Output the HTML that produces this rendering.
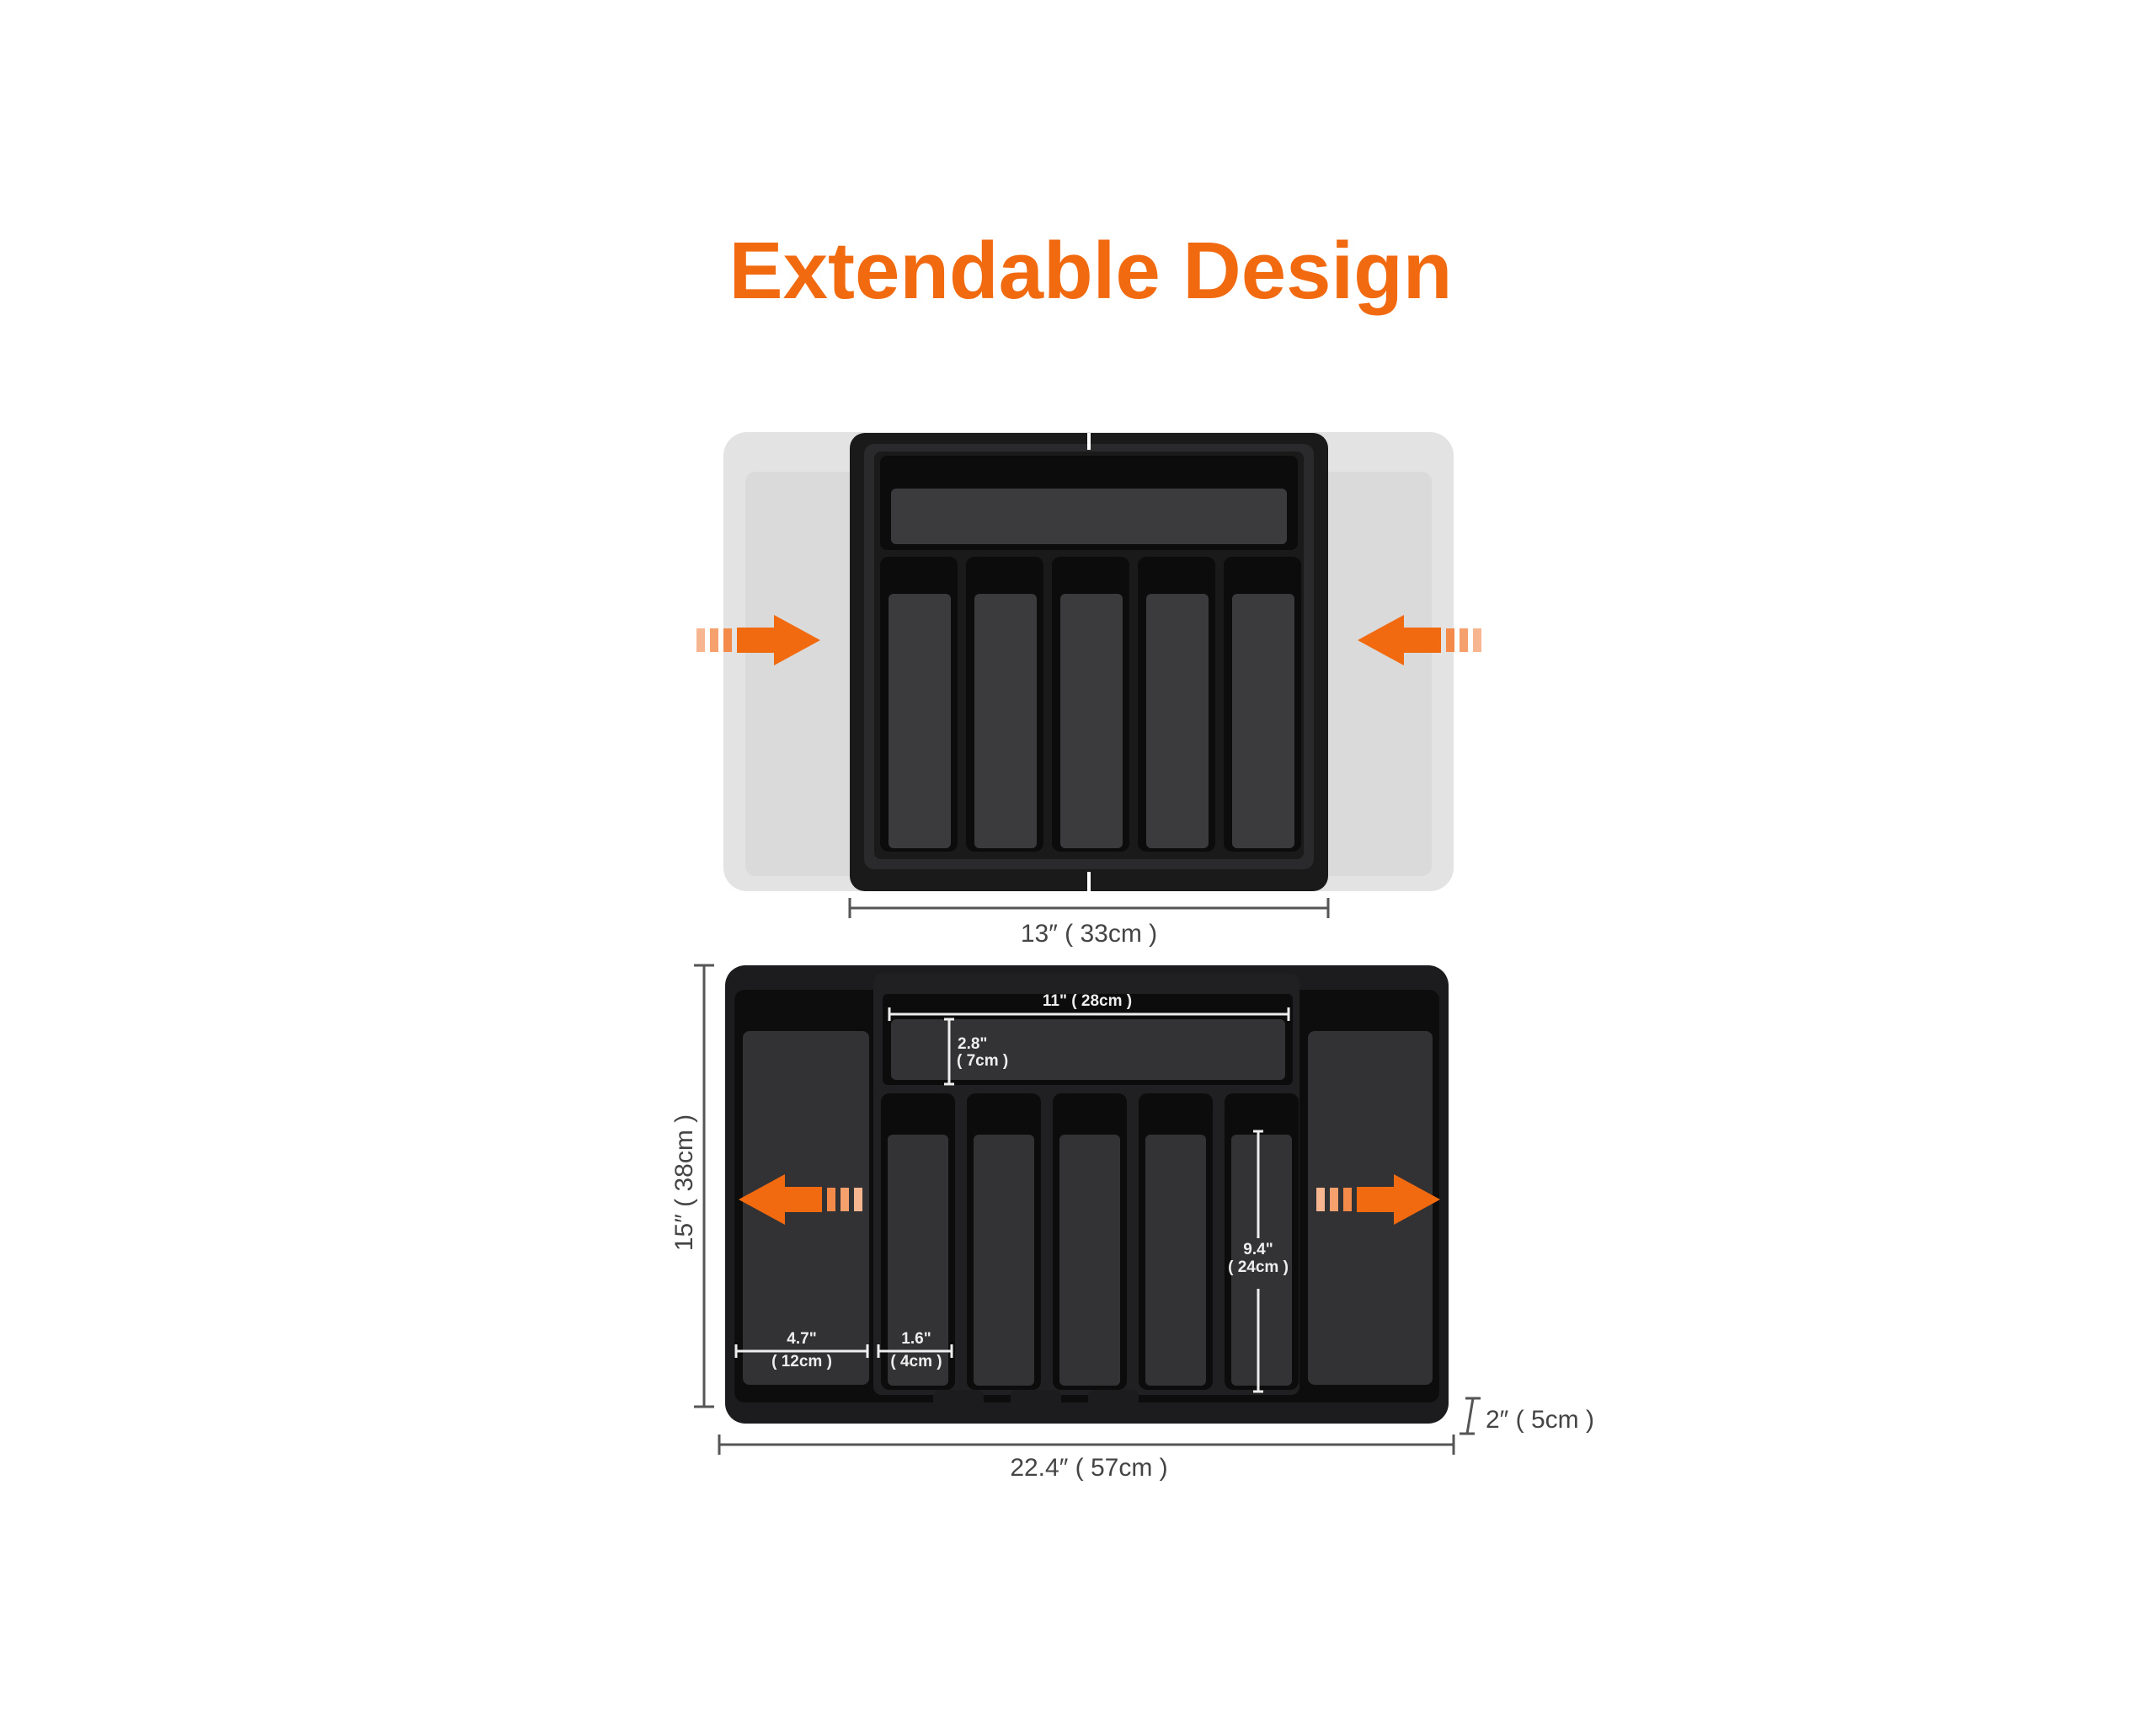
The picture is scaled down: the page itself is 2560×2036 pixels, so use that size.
<!DOCTYPE html>
<html><head><meta charset="utf-8"><style>
html,body{margin:0;padding:0;background:#fff}
svg{display:block}
text{font-family:"Liberation Sans",sans-serif}
</style></head><body>
<svg width="2560" height="2036" viewBox="0 0 2560 2036" xmlns="http://www.w3.org/2000/svg">
<defs>
<g id="arr">
 <rect x="0" y="-14" width="10" height="28" fill="#f7b690"/>
 <rect x="16" y="-14" width="10" height="28" fill="#f5a06d"/>
 <rect x="32" y="-14" width="10" height="28" fill="#f38a4a"/>
 <polygon points="48,-15 92,-15 92,-30 147,0 92,30 92,15 48,15" fill="#f26a10"/>
</g>
</defs>
<text x="1295" y="354" text-anchor="middle" font-size="96" font-weight="bold" fill="#f26a10">Extendable Design</text>

<!-- TOP -->
<rect x="859" y="513" width="867" height="545" rx="28" fill="#e3e3e3"/>
<rect x="885" y="560" width="815" height="480" rx="12" fill="#dadada"/>
<rect x="1009" y="514" width="568" height="544" rx="18" fill="#1a1a1b"/>
<rect x="1026" y="527" width="534" height="505" rx="12" fill="#2a2a2c"/>
<rect x="1038" y="536" width="510" height="484" rx="8" fill="#1a1a1b"/>
<rect x="1045" y="541" width="496" height="112" rx="8" fill="#0c0c0d"/>
<rect x="1058" y="580" width="470" height="66" rx="6" fill="#3b3b3e"/>
<g fill="#0c0c0d">
<rect x="1045" y="661" width="92" height="350" rx="10"/>
<rect x="1147" y="661" width="92" height="350" rx="10"/>
<rect x="1249" y="661" width="92" height="350" rx="10"/>
<rect x="1351" y="661" width="92" height="350" rx="10"/>
<rect x="1453" y="661" width="92" height="350" rx="10"/>
</g>
<g fill="#3b3b3e">
<rect x="1055" y="705" width="74" height="302" rx="6"/>
<rect x="1157" y="705" width="74" height="302" rx="6"/>
<rect x="1259" y="705" width="74" height="302" rx="6"/>
<rect x="1361" y="705" width="74" height="302" rx="6"/>
<rect x="1463" y="705" width="74" height="302" rx="6"/>
</g>
<rect x="1291" y="514" width="4" height="20" fill="#fff"/>
<rect x="1291" y="1035" width="4" height="40" fill="#fff"/>
<use href="#arr" transform="translate(827,760)"/>
<use href="#arr" transform="translate(1759,760) scale(-1,1)"/>
<g stroke="#555" stroke-width="3"><line x1="1009" y1="1078" x2="1577" y2="1078"/><line x1="1009" y1="1066" x2="1009" y2="1090"/><line x1="1577" y1="1066" x2="1577" y2="1090"/></g>
<text x="1293" y="1118" text-anchor="middle" font-size="30" fill="#444">13″ ( 33cm )</text>

<!-- BOTTOM -->
<rect x="861" y="1146" width="859" height="544" rx="24" fill="#1c1c1e"/>
<rect x="872" y="1175" width="837" height="490" rx="12" fill="#0d0d0e"/>
<rect x="882" y="1224" width="150" height="420" rx="8" fill="#323235"/>
<rect x="1553" y="1224" width="148" height="420" rx="8" fill="#323235"/>
<rect x="1037" y="1156" width="506" height="500" rx="10" fill="#202022"/>
<rect x="1048" y="1180" width="487" height="108" rx="6" fill="#0c0c0d"/>
<rect x="1058" y="1210" width="468" height="72" rx="6" fill="#333336"/>
<g fill="#0c0c0d">
<rect x="1046" y="1298" width="88" height="352" rx="10"/>
<rect x="1148" y="1298" width="88" height="352" rx="10"/>
<rect x="1250" y="1298" width="88" height="352" rx="10"/>
<rect x="1352" y="1298" width="88" height="352" rx="10"/>
<rect x="1454" y="1298" width="88" height="352" rx="10"/>
</g>
<g fill="#333336">
<rect x="1054" y="1347" width="72" height="298" rx="6"/>
<rect x="1156" y="1347" width="72" height="298" rx="6"/>
<rect x="1258" y="1347" width="72" height="298" rx="6"/>
<rect x="1360" y="1347" width="72" height="298" rx="6"/>
<rect x="1462" y="1347" width="72" height="298" rx="6"/>
</g>
<g fill="#1c1c1e"><rect x="1108" y="1650" width="60" height="30" rx="8"/><rect x="1200" y="1650" width="60" height="30" rx="8"/><rect x="1292" y="1650" width="60" height="30" rx="8"/></g>
<use href="#arr" transform="translate(1024,1424) scale(-1,1)"/>
<use href="#arr" transform="translate(1563,1424)"/>
<g stroke="#eee" stroke-width="3">
<line x1="1056" y1="1204" x2="1530" y2="1204"/><line x1="1056" y1="1196" x2="1056" y2="1212"/><line x1="1530" y1="1196" x2="1530" y2="1212"/>
<line x1="1127" y1="1210" x2="1127" y2="1287"/><line x1="1121" y1="1210" x2="1133" y2="1210"/><line x1="1121" y1="1287" x2="1133" y2="1287"/>
<line x1="1494" y1="1343" x2="1494" y2="1470"/><line x1="1494" y1="1530" x2="1494" y2="1652"/><line x1="1488" y1="1343" x2="1500" y2="1343"/><line x1="1488" y1="1652" x2="1500" y2="1652"/>
<line x1="874" y1="1604" x2="1030" y2="1604"/><line x1="874" y1="1596" x2="874" y2="1612"/><line x1="1030" y1="1596" x2="1030" y2="1612"/>
<line x1="1043" y1="1604" x2="1130" y2="1604"/><line x1="1043" y1="1596" x2="1043" y2="1612"/><line x1="1130" y1="1596" x2="1130" y2="1612"/>
</g>
<g fill="#eee" font-size="19" font-weight="bold">
<text x="1291" y="1194" text-anchor="middle">11" ( 28cm )</text>
<text x="1137" y="1245">2.8"</text><text x="1136" y="1265">( 7cm )</text>
<text x="1494" y="1489" text-anchor="middle">9.4"</text><text x="1494" y="1510" text-anchor="middle">( 24cm )</text>
<text x="952" y="1595" text-anchor="middle">4.7"</text><text x="952" y="1622" text-anchor="middle">( 12cm )</text>
<text x="1088" y="1595" text-anchor="middle">1.6"</text><text x="1088" y="1622" text-anchor="middle">( 4cm )</text>
</g>
<g stroke="#555" stroke-width="3">
<line x1="836" y1="1146" x2="836" y2="1670"/><line x1="824" y1="1146" x2="848" y2="1146"/><line x1="824" y1="1670" x2="848" y2="1670"/>
<line x1="854" y1="1715" x2="1726" y2="1715"/><line x1="854" y1="1703" x2="854" y2="1727"/><line x1="1726" y1="1703" x2="1726" y2="1727"/>
<line x1="1749" y1="1660" x2="1742" y2="1702"/><line x1="1740" y1="1660" x2="1758" y2="1660"/><line x1="1733" y1="1702" x2="1751" y2="1702"/>
</g>
<text transform="translate(822,1404) rotate(-90)" text-anchor="middle" font-size="30" fill="#444">15″ ( 38cm )</text>
<text x="1293" y="1752" text-anchor="middle" font-size="30" fill="#444">22.4″ ( 57cm )</text>
<text x="1764" y="1695" font-size="30" fill="#444">2″ ( 5cm )</text>
</svg>
</body></html>
